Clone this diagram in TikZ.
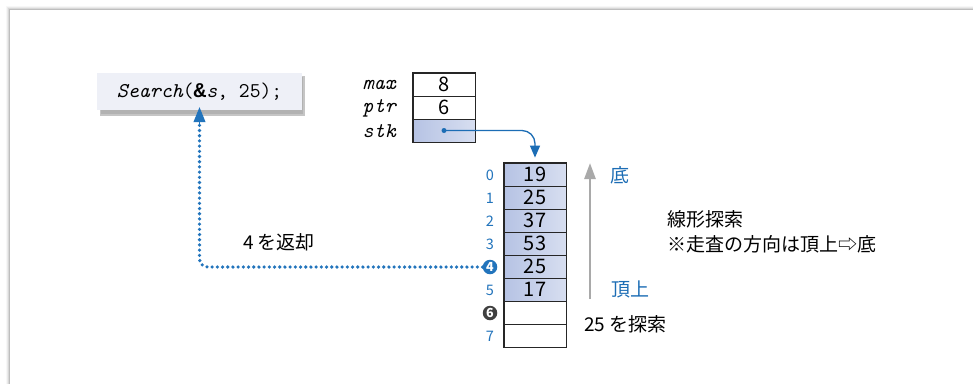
\documentclass[tikz,border=0pt]{standalone}
\usepackage{fontspec}
\setmainfont{Noto Sans CJK JP}
\newfontfamily\jp{Noto Sans CJK JP}
\newfontfamily\monob{Liberation Mono}
\usetikzlibrary{arrows.meta}
\definecolor{idxblue}{HTML}{2274BC}
\definecolor{lnkblue}{HTML}{1C6DB5}
\definecolor{cellb}{HTML}{B6C3E4}
\definecolor{boxfill}{HTML}{EEF0F7}
\definecolor{arrgray}{HTML}{A9A9A9}
\tikzset{
  cell/.style={draw=black!85, line width=0.8pt, minimum width=62pt, minimum height=23pt, inner sep=0pt, font=\jp\fontsize{20}{20}\selectfont},
  filled/.style={left color=cellb, middle color=white, right color=cellb!55},
  idx/.style={text=idxblue, font=\jp\fontsize{14.5}{14.5}\selectfont, inner sep=0pt},
  idxc/.style={circle, inner sep=0pt, minimum size=14.5pt, text=white, font=\jp\bfseries\fontsize{12.5}{12.5}\selectfont},
  lbl/.style={font=\ttfamily\itshape\fontsize{21}{21}\selectfont, anchor=east, inner sep=0pt},
  jtxt/.style={font=\jp\fontsize{19}{19}\selectfont, anchor=west, inner sep=0pt},
  btxt/.style={font=\jp\fontsize{19}{19}\selectfont, text=lnkblue, inner sep=0pt},
}
\begin{document}
\begin{tikzpicture}[x=1pt,y=-1pt]
\useasboundingbox (0,0) rectangle (973,384);
% panel with shadow
\foreach \d/\o in {4/0.03,3/0.05,2/0.08,1/0.12}{
  \fill[black, opacity=\o] (10-\d,10-\d) rectangle (973,384);
}
\fill[white] (10,10) rectangle (973,384);

% Search box
\fill[black!45, opacity=0.5] (100,76) rectangle (305,116);
\fill[black!35, opacity=0.6] (101,77) rectangle (303,114);
\node[fill=boxfill, minimum width=205pt, minimum height=37pt, inner sep=0pt] (search) at (199.5,91.5)
  {\ttfamily\fontsize{21}{21}\selectfont{\itshape Search}({\monob\bfseries\&}{\itshape s}, 25);};

% memory cells
\node[cell] (mmax) at (444,84.5) {8};
\node[cell] (mptr) at (444,107.5) {6};
\node[cell, filled] (mstk) at (444,130.5) {};
\draw[black!85, line width=1.6pt] (mmax.north west) rectangle (mstk.south east);
\node[lbl] (lmax) at (396,85) {max};
\node[lbl] (lptr) at (396,108) {ptr};
\node[lbl] (lstk) at (396,131) {stk};
\node[circle, fill=lnkblue, inner sep=0pt, minimum size=5pt] (dot) at (444,130.5) {};

% stack cells
\foreach \i/\v in {0/19,1/25,2/37,3/53,4/25,5/17}{
  \node[cell, filled] (c\i) at (535,174.5+23*\i) {\v};
}
\node[cell] (c6) at (535,312.5) {};
\node[cell] (c7) at (535,335.5) {};
\draw[black!85, line width=1.6pt] (c0.north west) rectangle (c7.south east);

% indices
\node[idx] (i0) at (490,175) {0};
\node[idx] (i1) at (490,198) {1};
\node[idx] (i2) at (490,221) {2};
\node[idx] (i3) at (490,244) {3};
\node[idxc, fill=idxblue] (i4) at (490,267) {4};
\node[idx] (i5) at (490,290) {5};
\node[idxc, fill=black!75] (i6) at (490,313) {6};
\node[idx] (i7) at (490,336) {7};

% stk pointer
\draw[lnkblue, line width=1.3pt, rounded corners=13pt, -{Triangle[length=12pt,width=10pt]}, shorten >=5pt]
  (dot.center) -| (c0.north);

% return path
\draw[idxblue, line width=3.6pt, line cap=round, dash pattern=on 0pt off 5.2pt, rounded corners=8pt]
  (i4.west) -| ([yshift=-14pt]search.south);
\draw[idxblue, -{Triangle[length=15pt,width=12pt]}, line width=1pt]
  ([yshift=-14pt]search.south) -- ([yshift=3pt]search.south);

% gray direction arrow
\coordinate (gb) at (590,299);
\coordinate (gt) at (590,163);
\draw[arrgray, line width=2.6pt, -{Triangle[length=16pt,width=11pt]}] (gb) -- (gt);

% texts
\node[btxt] (tsoko) at (620,175) {底};
\node[btxt] (ttop) at (630,289) {頂上};
\node[jtxt] (t1) at (667,219) {線形探索};
\node[jtxt] (t2) at (667,244) {※走査の方向は頂上⇨底};
\node[jtxt] (t3) at (584,324) {25 を探索};
\node[jtxt] (t4) at (243,242) {4 を返却};
\end{tikzpicture}
\end{document}
